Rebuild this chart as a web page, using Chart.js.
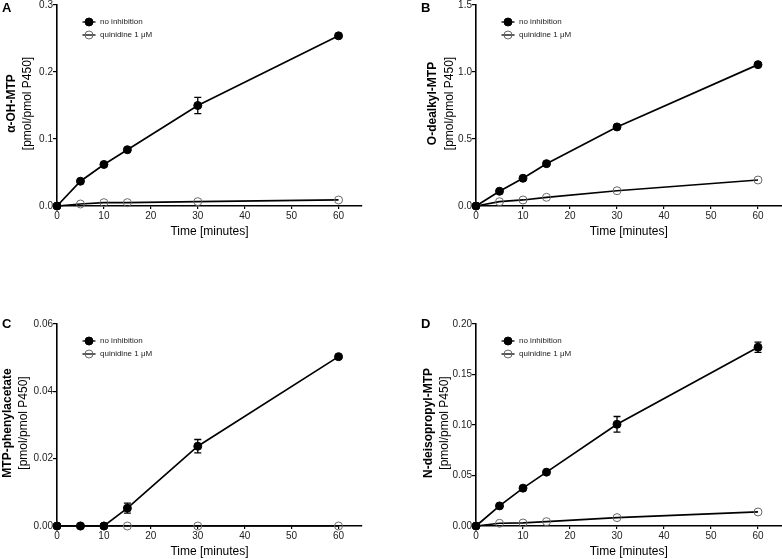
<!DOCTYPE html>
<html><head><meta charset="utf-8">
<script src="https://cdn.jsdelivr.net/npm/chart.js@4.4.1/dist/chart.umd.min.js"></script>
<style>
html,body{margin:0;padding:0;background:#fff;width:782px;height:559px;overflow:hidden;font-family:"Liberation Sans",Arial,sans-serif;}
.panel{position:absolute;}
.letter{position:absolute;font-weight:bold;font-size:13px;color:#000;font-family:"Liberation Sans",Arial,sans-serif;}
</style></head><body>
<div class="panel" style="left:0;top:0;width:391px;height:280px"><canvas id="cA" width="391" height="280"></canvas></div>
<div class="panel" style="left:391px;top:0;width:391px;height:280px"><canvas id="cB" width="391" height="280"></canvas></div>
<div class="panel" style="left:0;top:280px;width:391px;height:279px"><canvas id="cC" width="391" height="279"></canvas></div>
<div class="panel" style="left:391px;top:280px;width:391px;height:279px"><canvas id="cD" width="391" height="279"></canvas></div>
<div class="letter" style="left:2px;top:0px">A</div>
<div class="letter" style="left:421px;top:0px">B</div>
<div class="letter" style="left:2px;top:316px">C</div>
<div class="letter" style="left:421px;top:316px">D</div>
<script>
// ---- data ----
const times = [0, 5, 10, 15, 30, 60];
const seriesLabels = ['no inhibition', 'quinidine 1 μM'];
const xTicks = [0, 10, 20, 30, 40, 50, 60];

const aNone    = [0, 0.037, 0.062, 0.084, 0.150, 0.254];
const aNoneErr = [0, 0, 0, 0, 0.012, 0];
const aQuin    = [0, 0.003, 0.005, 0.005, 0.0065, 0.009];

const bNone    = [0, 0.110, 0.207, 0.316, 0.590, 1.055];
const bNoneErr = [0, 0, 0, 0, 0, 0];
const bQuin    = [0, 0.032, 0.045, 0.065, 0.114, 0.194];

const cNone    = [0, 0, 0, 0.0053, 0.0237, 0.0503];
const cNoneErr = [0, 0, 0, 0.0015, 0.002, 0];
const cQuin    = [0, 0, 0, 0, 0, 0];

const dNone    = [0, 0.0199, 0.0375, 0.0533, 0.1007, 0.177];
const dNoneErr = [0, 0, 0, 0, 0.0077, 0.005];
const dQuin    = [0, 0.0027, 0.003, 0.0043, 0.0083, 0.0139];

const yTitleA = ['α-OH-MTP', '[pmol/pmol P450]'];
const yTitleB = ['O-dealkyl-MTP', '[pmol/pmol P450]'];
const yTitleC = ['MTP-phenylacetate', '[pmol/pmol P450]'];
const yTitleD = ['N-deisopropyl-MTP', '[pmol/pmol P450]'];
const xTitle = 'Time [minutes]';

// ---- helpers ----
const FONT = '"Liberation Sans", Arial, Helvetica, sans-serif';
const toXY = (vals) => times.map((t, i) => ({x: t, y: vals[i]}));

const panelPlugin = {
  id: 'panelExtras',
  afterDatasetsDraw(chart) {
    const ctx = chart.ctx;
    const xs = chart.scales.x, ys = chart.scales.y;
    chart.data.datasets.forEach(ds => {
      if (!ds.errors) return;
      ds.data.forEach((p, i) => {
        const e = ds.errors[i];
        if (!e) return;
        const px = xs.getPixelForValue(p.x);
        const y1 = ys.getPixelForValue(p.y - e), y2 = ys.getPixelForValue(p.y + e);
        ctx.save();
        ctx.strokeStyle = '#000';
        ctx.lineWidth = 1.3;
        ctx.beginPath();
        ctx.moveTo(px, y1); ctx.lineTo(px, y2);
        ctx.moveTo(px - 3.5, y1); ctx.lineTo(px + 3.5, y1);
        ctx.moveTo(px - 3.5, y2); ctx.lineTo(px + 3.5, y2);
        ctx.stroke();
        ctx.restore();
      });
    });
  },
  afterDraw(chart, args, opts) {
    const ctx = chart.ctx;
    const ca = chart.chartArea;
    chart.data.datasets.forEach((ds, i) => {
      const cy = ca.top + 17 + 13 * i;
      const cx = ca.left + 32;
      ctx.save();
      ctx.strokeStyle = '#000';
      ctx.lineWidth = 1.3;
      ctx.beginPath(); ctx.moveTo(cx - 6.5, cy); ctx.lineTo(cx + 6.5, cy); ctx.stroke();
      ctx.beginPath(); ctx.arc(cx, cy, 4, 0, Math.PI * 2);
      if (ds.pointBackgroundColor !== 'rgba(0,0,0,0)') { ctx.fillStyle = ds.pointBackgroundColor; ctx.fill(); }
      ctx.strokeStyle = ds.pointBorderColor; ctx.lineWidth = 1; ctx.stroke();
      ctx.fillStyle = '#222';
      ctx.font = '8px ' + FONT;
      ctx.textBaseline = 'middle';
      ctx.textAlign = 'left';
      ctx.fillText(ds.label, ca.left + 43, cy);
      ctx.restore();
    });
    const midY = (ca.top + ca.bottom) / 2 - 2;
    opts.lines.forEach((txt, i) => {
      ctx.save();
      ctx.translate(ca.left + opts.offsets[i], midY);
      ctx.rotate(-Math.PI / 2);
      ctx.font = (i === 0 ? 'bold ' : '') + '12px ' + FONT;
      ctx.fillStyle = '#000';
      ctx.textAlign = 'center';
      ctx.textBaseline = 'middle';
      ctx.fillText(txt, 0, 0);
      ctx.restore();
    });
  }
};

function makeChart(id, none, noneErr, quin, yMax, yStep, dec, yTitle, titleOffsets, pad) {
  return new Chart(document.getElementById(id), {
    type: 'line',
    data: {
      datasets: [
        {
          label: seriesLabels[0], data: toXY(none), errors: noneErr,
          borderColor: '#000', borderWidth: 1.7,
          pointRadius: 4, pointHoverRadius: 4, pointBackgroundColor: '#000', pointBorderColor: '#000', pointBorderWidth: 1,
          clip: false, tension: 0
        },
        {
          label: seriesLabels[1], data: toXY(quin),
          borderColor: '#000', borderWidth: 1.7,
          pointRadius: 4, pointHoverRadius: 4, pointBackgroundColor: 'rgba(0,0,0,0)', pointBorderColor: '#6a6a6a', pointBorderWidth: 1,
          clip: false, tension: 0
        }
      ]
    },
    options: {
      responsive: false, animation: false,
      layout: {padding: pad, autoPadding: false},
      plugins: {legend: {display: false}, tooltip: {enabled: false}, panelExtras: {lines: yTitle, offsets: titleOffsets}},
      scales: {
        x: {
          type: 'linear', min: 0, max: 65,
          afterFit(s) { s.height = 32; s.paddingLeft = 0; s.paddingRight = 0; },
          afterBuildTicks(s) { s.ticks = xTicks.map(v => ({value: v})); },
          ticks: {includeBounds: false, padding: 1, color: '#222', font: {family: FONT, size: 10}},
          grid: {display: true, drawOnChartArea: false, drawTicks: true, tickLength: 3, color: '#000', lineWidth: 1.2},
          border: {display: true, color: '#000', width: 1.6},
          title: {display: true, text: xTitle, color: '#000', font: {family: FONT, size: 12, lineHeight: 1}, padding: {top: 0, bottom: 0}}
        },
        y: {
          type: 'linear', min: 0, max: yMax,
          afterFit(s) { s.width = 40; s.paddingTop = 0; s.paddingBottom = 0; },
          ticks: {stepSize: yStep, padding: 0, color: '#222', font: {family: FONT, size: 10}, callback: v => v.toFixed(dec)},
          grid: {display: true, drawOnChartArea: false, drawTicks: true, tickLength: 4, color: '#000', lineWidth: 1.2},
          border: {display: true, color: '#000', width: 1.6}
        }
      }
    },
    plugins: [panelPlugin]
  });
}

makeChart('cA', aNone, aNoneErr, aQuin, 0.3, 0.1, 1, yTitleA, [-45, -29], {left: 17, top: 5, right: 29, bottom: 42});
makeChart('cB', bNone, bNoneErr, bQuin, 1.5, 0.5, 1, yTitleB, [-43, -26], {left: 45, top: 5, right: 0.5, bottom: 42});
makeChart('cC', cNone, cNoneErr, cQuin, 0.06, 0.02, 2, yTitleC, [-49, -33], {left: 17, top: 44, right: 29, bottom: 1});
makeChart('cD', dNone, dNoneErr, dQuin, 0.20, 0.05, 2, yTitleD, [-47, -31], {left: 45, top: 44, right: 0.5, bottom: 1});
</script>
</body></html>
